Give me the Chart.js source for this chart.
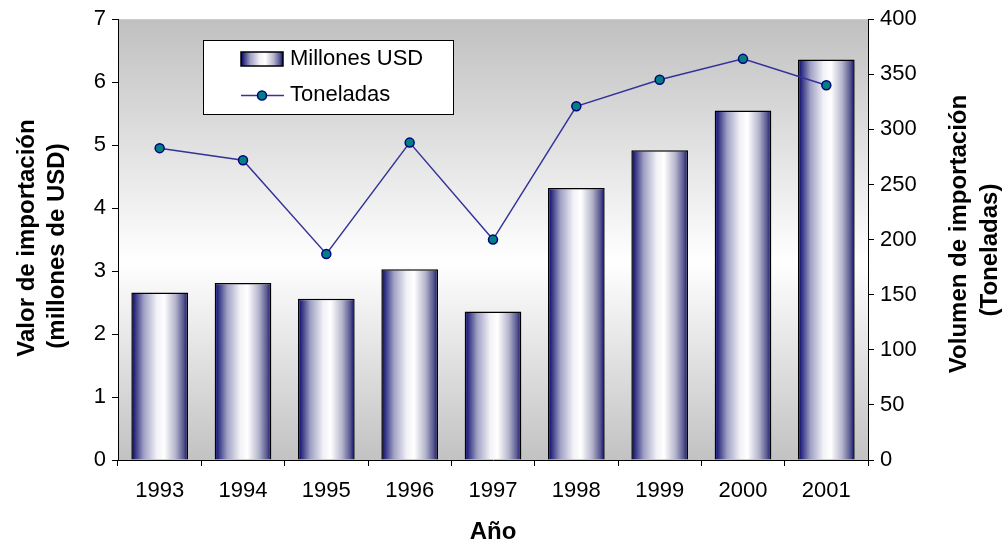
<!DOCTYPE html>
<html><head><meta charset="utf-8">
<script src="https://cdn.jsdelivr.net/npm/chart.js@4.4.1/dist/chart.umd.min.js"></script>
<style>html,body{margin:0;padding:0;background:#fff;overflow:hidden}#wrap{width:1008px;height:544px;position:relative}</style>
</head><body><div id="wrap"><canvas id="c" width="1008" height="544"></canvas></div>
<script>
const years = ['1993','1994','1995','1996','1997','1998','1999','2000','2001'];
const millonesUSD = [2.66, 2.81, 2.56, 3.03, 2.36, 4.32, 4.92, 5.55, 6.36];
const toneladas = [283, 272, 187, 288, 200, 321, 345, 364, 340];
const leftAxis = {min: 0, max: 7, step: 1};
const rightAxis = {min: 0, max: 400, step: 50};
const seriesNames = ['Millones USD', 'Toneladas'];
const xTitle = 'Año';
const leftTitle = ['Valor de importación', '(millones de USD)'];
const rightTitle = ['Volumen de importación', '(Toneladas)'];

const FONT = "'Liberation Sans', Arial, sans-serif";
const BAR_PCT = 0.68;

function barGradient(ctx, x0, x1) {
  const g = ctx.createLinearGradient(x0, 0, x1, 0);
  g.addColorStop(0, '#000070');
  g.addColorStop(0.08, '#3c3c88');
  g.addColorStop(0.22, '#a0a0c4');
  g.addColorStop(0.45, '#f2f2f7');
  g.addColorStop(0.58, '#ffffff');
  g.addColorStop(0.78, '#b4b4cc');
  g.addColorStop(0.92, '#5a5a92');
  g.addColorStop(1, '#0c0c6e');
  return g;
}

const bgPlugin = {
  id: 'bg',
  beforeDraw(chart) {
    const {ctx, chartArea: a} = chart;
    const g = ctx.createLinearGradient(0, a.top, 0, a.bottom);
    g.addColorStop(0, '#c0c0c0');
    g.addColorStop(0.55, '#ffffff');
    g.addColorStop(1, '#c2c2c2');
    ctx.save();
    ctx.fillStyle = g;
    ctx.fillRect(a.left, a.top, a.right - a.left, a.bottom - a.top);
    ctx.restore();
  }
};

const extrasPlugin = {
  id: 'extras',
  afterDraw(chart) {
    const ctx = chart.ctx;
    ctx.save();
    // Y titles
    ctx.fillStyle = '#000';
    ctx.font = 'bold 24px ' + FONT;
    ctx.textAlign = 'center';
    ctx.textBaseline = 'middle';
    const drawV = (txt, x, y) => {
      ctx.save(); ctx.translate(x, y); ctx.rotate(-Math.PI / 2); ctx.fillText(txt, 0, 0); ctx.restore();
    };
    drawV(leftTitle[0], 27, 238);
    drawV(leftTitle[1], 57, 246);
    drawV(rightTitle[0], 959, 234);
    drawV(rightTitle[1], 990, 250);

    // Legend
    ctx.fillStyle = '#fff';
    ctx.fillRect(203.5, 40.5, 250, 74);
    ctx.strokeStyle = '#000';
    ctx.lineWidth = 1;
    ctx.strokeRect(203.5, 40.5, 250, 74);
    ctx.fillStyle = barGradient(ctx, 241, 283);
    ctx.fillRect(241, 52, 42, 14);
    ctx.lineWidth = 1.5;
    ctx.strokeRect(241, 52, 42, 14);
    ctx.strokeStyle = '#333399';
    ctx.lineWidth = 1.5;
    ctx.beginPath(); ctx.moveTo(241, 95.5); ctx.lineTo(284, 95.5); ctx.stroke();
    ctx.beginPath(); ctx.arc(262, 95.5, 4.5, 0, Math.PI * 2);
    ctx.fillStyle = '#008080'; ctx.fill();
    ctx.strokeStyle = '#000080'; ctx.stroke();
    ctx.fillStyle = '#000';
    ctx.font = '22px ' + FONT;
    ctx.textAlign = 'left';
    ctx.fillText(seriesNames[0], 290, 59);
    ctx.fillText(seriesNames[1], 290, 95);
    ctx.restore();
  }
};

new Chart(document.getElementById('c'), {
  data: {
    labels: years,
    datasets: [
      {
        type: 'line', label: seriesNames[1], data: toneladas, yAxisID: 'y1', order: 0,
        borderColor: '#333399', borderWidth: 1.5, pointRadius: 4.5, pointBorderWidth: 1.5,
        pointBackgroundColor: '#008080', pointBorderColor: '#000080', tension: 0
      },
      {
        type: 'bar', label: seriesNames[0], data: millonesUSD, yAxisID: 'y', order: 1,
        categoryPercentage: 1, barPercentage: BAR_PCT,
        borderColor: '#000', borderWidth: 1.5, borderSkipped: 'start',
        backgroundColor: (c) => {
          const chart = c.chart, s = chart.scales && chart.scales.x;
          if (!s || !chart.chartArea || c.dataIndex === undefined) return '#9090c0';
          const x = s.getPixelForValue(c.dataIndex);
          const w = s.width / years.length * BAR_PCT;
          return barGradient(chart.ctx, x - w / 2, x + w / 2);
        }
      }
    ]
  },
  options: {
    responsive: false, animation: false, devicePixelRatio: 1,
    layout: {padding: {top: 19, left: 0, right: 0, bottom: 0}},
    plugins: {legend: {display: false}, tooltip: {enabled: false}},
    scales: {
      x: {
        type: 'category', offset: true,
        grid: {display: true, drawOnChartArea: false, drawTicks: true, tickLength: 6, color: '#000', offset: true},
        border: {display: true, color: '#000', width: 1},
        ticks: {color: '#000', font: {family: FONT, size: 22}, padding: 12, maxRotation: 0},
        title: {display: true, text: xTitle, color: '#000', font: {family: FONT, size: 24, weight: 'bold', lineHeight: 1.0}, padding: {top: 0, bottom: 0}},
        afterFit(s) { s.height = 84; }
      },
      y: {
        position: 'left', min: leftAxis.min, max: leftAxis.max,
        grid: {drawOnChartArea: false, drawTicks: true, tickLength: 6, color: '#000'},
        border: {display: true, color: '#000', width: 1},
        ticks: {stepSize: leftAxis.step, color: '#000', font: {family: FONT, size: 22}, padding: 6},
        afterFit(s) { s.width = 118; }
      },
      y1: {
        position: 'right', min: rightAxis.min, max: rightAxis.max,
        grid: {drawOnChartArea: false, drawTicks: true, tickLength: 6, color: '#000'},
        border: {display: true, color: '#000', width: 1},
        ticks: {stepSize: rightAxis.step, color: '#000', font: {family: FONT, size: 22}, padding: 6},
        afterFit(s) { s.width = 140; }
      }
    }
  },
  plugins: [bgPlugin, extrasPlugin]
});
</script>
</body></html>
